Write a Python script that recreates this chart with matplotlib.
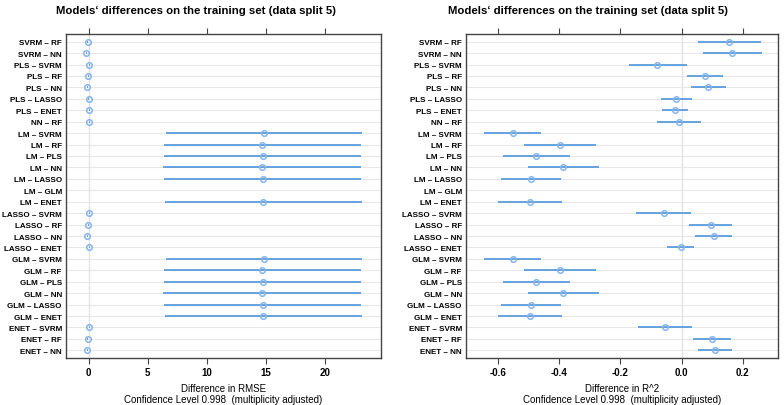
import numpy as np
import matplotlib
matplotlib.use('Agg')
import matplotlib.pyplot as plt

plt.rcParams['font.family'] = ['Liberation Sans', 'DejaVu Sans']
plt.rcParams['axes.unicode_minus'] = False

pairs = ['SVRM – RF', 'SVRM – NN', 'PLS – SVRM', 'PLS – RF', 'PLS – NN', 'PLS – LASSO',
         'PLS – ENET', 'NN – RF', 'LM – SVRM', 'LM – RF', 'LM – PLS', 'LM – NN',
         'LM – LASSO', 'LM – GLM', 'LM – ENET', 'LASSO – SVRM', 'LASSO – RF',
         'LASSO – NN', 'LASSO – ENET', 'GLM – SVRM', 'GLM – RF', 'GLM – PLS',
         'GLM – NN', 'GLM – LASSO', 'GLM – ENET', 'ENET – SVRM', 'ENET – RF', 'ENET – NN']

# RMSE differences: estimate, lower, upper
rmse_est = [-0.08, -0.20, 0.08, -0.03, -0.11, 0.03, 0.06, 0.08,
            14.82, 14.68, 14.74, 14.63, 14.74, np.nan, 14.77,
            0.08, -0.03, -0.11, 0.06,
            14.82, 14.68, 14.74, 14.63, 14.74, 14.77,
            0.06, -0.06, -0.11]
rmse_lo = [-0.12, -0.24, 0.04, -0.07, -0.15, -0.01, 0.02, 0.04,
           6.55, 6.38, 6.40, 6.32, 6.40, np.nan, 6.49,
           0.04, -0.07, -0.15, 0.02,
           6.55, 6.38, 6.40, 6.32, 6.40, 6.49,
           0.02, -0.10, -0.15]
rmse_hi = [-0.04, -0.16, 0.12, 0.01, -0.07, 0.07, 0.10, 0.12,
           23.07, 22.99, 23.04, 22.99, 23.04, np.nan, 23.07,
           0.12, 0.01, -0.07, 0.10,
           23.07, 22.99, 23.04, 22.99, 23.04, 23.07,
           0.10, -0.02, -0.07]

# R^2 differences: estimate, lower, upper
r2_est = [0.155, 0.165, -0.079, 0.077, 0.087, -0.019, -0.022, -0.010,
          -0.552, -0.397, -0.475, -0.387, -0.492, np.nan, -0.496,
          -0.059, 0.095, 0.106, -0.003,
          -0.552, -0.397, -0.475, -0.387, -0.492, -0.496,
          -0.056, 0.099, 0.110]
r2_lo = [0.054, 0.069, -0.173, 0.019, 0.032, -0.067, -0.064, -0.081,
         -0.645, -0.514, -0.584, -0.503, -0.589, np.nan, -0.601,
         -0.149, 0.024, 0.044, -0.047,
         -0.645, -0.514, -0.584, -0.503, -0.589, -0.601,
         -0.143, 0.038, 0.054]
r2_hi = [0.258, 0.262, 0.016, 0.136, 0.144, 0.033, 0.020, 0.062,
         -0.459, -0.279, -0.366, -0.270, -0.393, np.nan, -0.391,
         0.030, 0.166, 0.166, 0.039,
         -0.459, -0.279, -0.366, -0.270, -0.393, -0.391,
         0.034, 0.162, 0.166]

title = 'Models‘ differences on the training set (data split 5)'
line_col = '#4d94db'
pt_col = '#85b5ec'
box_col = '#444444'

fig = plt.figure(figsize=(7.84, 4.06), dpi=100)
ax1 = fig.add_axes([66 / 784, 47 / 406, 315 / 784, 324 / 406])
ax2 = fig.add_axes([466 / 784, 47 / 406, 312 / 784, 324 / 406])

panels = [
    (ax1, rmse_est, rmse_lo, rmse_hi, (-1.9, 24.7), [0, 5, 10, 15, 20], 'Difference in RMSE'),
    (ax2, r2_est, r2_lo, r2_hi, (-0.705, 0.315), [-0.6, -0.4, -0.2, 0.0, 0.2], 'Difference in R^2'),
]

y = np.arange(len(pairs))
for ax, est, lo, hi, xlim, ticks, xlab in panels:
    for yi in y:
        ax.axhline(yi, color='#e8e8e8', lw=0.8, zorder=0)
    ax.axvline(0, color='#e3e3e3', lw=1.0, zorder=0)
    ax.hlines(y, lo, hi, color=line_col, lw=1.2, zorder=2)
    ax.plot(est, y, 'o', ms=4.0, mfc='none', mec=pt_col, mew=1.1, zorder=3)
    ax.set_xlim(*xlim)
    ax.set_ylim(len(pairs) - 0.33, -0.67)
    ax.set_yticks(y)
    ax.set_yticklabels(pairs, fontsize=5.8, fontweight='bold')
    ax.set_xticks(ticks)
    if ticks[0] < 0:
        ax.set_xticklabels(['%.1f' % t for t in ticks])
    ax.tick_params(axis='x', top=True, labeltop=False, direction='out', length=4,
                   width=0.8, color=box_col, labelsize=7, pad=2.5)
    for lab in ax.get_xticklabels():
        lab.set_fontweight('bold')
    ax.tick_params(axis='y', length=0, pad=3)
    for s in ax.spines.values():
        s.set_color(box_col)
        s.set_linewidth(1.0)
    ax.set_xlabel(xlab + '\nConfidence Level 0.998  (multiplicity adjusted)',
                  fontsize=7.0, labelpad=4, linespacing=1.2)

fig.text(0.25, 0.972, title, ha='center', va='center', fontsize=8.2, fontweight='bold')
fig.text(0.75, 0.972, title, ha='center', va='center', fontsize=8.2, fontweight='bold')

fig.savefig('out.png', dpi=100)
